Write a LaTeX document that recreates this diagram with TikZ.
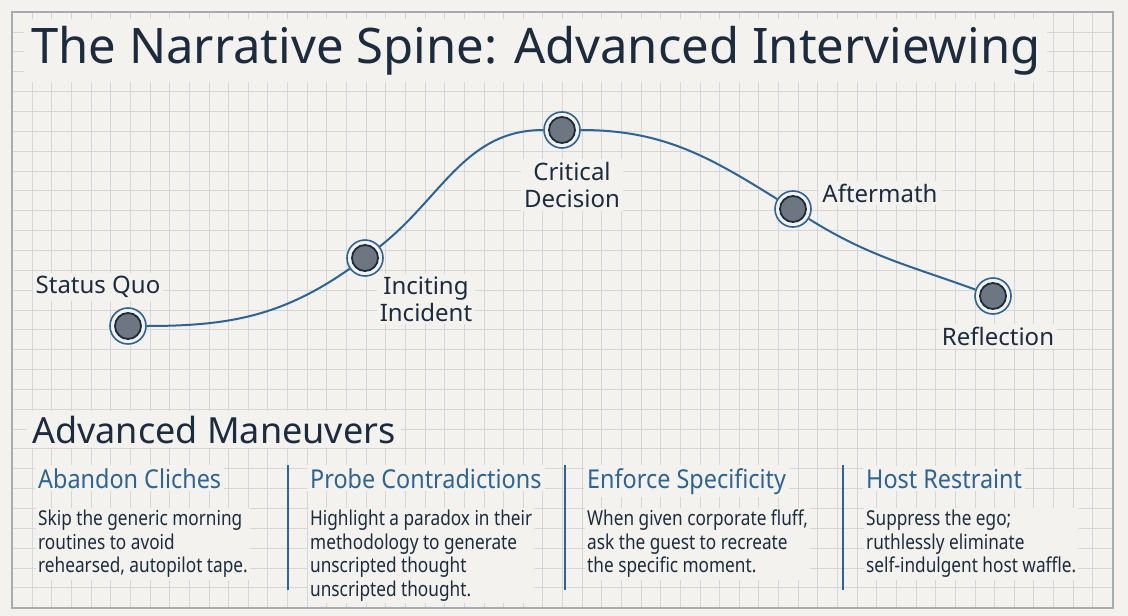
\documentclass[tikz,border=0pt]{standalone}
\usepackage{fontspec}
\setmainfont{Noto Sans}
\newfontfamily\narrowfont[FakeStretch=0.84]{Noto Sans}
\newfontfamily\headfont[FakeStretch=0.9]{Noto Sans}
\usetikzlibrary{positioning}

\definecolor{paper}{HTML}{F3F2EE}
\definecolor{gridgray}{HTML}{D4D6D7}
\definecolor{framegray}{HTML}{A8ACAF}
\definecolor{ink}{HTML}{1C2B3D}
\definecolor{spine}{HTML}{2F6391}
\definecolor{dotgray}{HTML}{6E7681}

\tikzset{
  gridline/.style={draw=gridgray, line width=0.9},
  beat/.style={circle, draw=spine, line width=1.6, fill=paper, minimum size=36, inner sep=0,
    path picture={\fill[dotgray, draw=ink, line width=1.8] (path picture bounding box.center) circle (13);}},
  beatlabel/.style={fill=paper, inner sep=3, text=ink, align=center,
    font=\fontsize{24}{27}\selectfont},
  colhead/.style={fill=paper, inner sep=3, anchor=base west, text=spine,
    font=\headfont\fontsize{26}{29}\selectfont},
  colbody/.style={fill=paper, inner sep=2, anchor=north west, text=ink, align=left,
    font=\narrowfont\fontsize{20.5}{23.5}\selectfont},
  divider/.style={draw=spine, line width=2.4}
}

\begin{document}
\begin{tikzpicture}[x=1pt, y=-1pt]
	\useasboundingbox (0,0) rectangle (1128,616);
	\fill[paper] (0,0) rectangle (1128,616);
	% squared paper
	\foreach \i in {1,...,55} \draw[gridline] ({12.6+19.64*\i},12) -- ++(0,596);
	\foreach \j in {1,...,29} \draw[gridline] (12,{12.2+19.85*\j}) -- ++(1101,0);
	\draw[draw=framegray, line width=1.2] (12,12) rectangle (1113,608);

	\node[fill=paper, inner sep=7, anchor=base west, text=ink, font=\fontsize{49}{55}\selectfont] (title) at (24,63) {The Narrative Spine: Advanced Interviewing};

	% the arc
	\node[beat] (sq) at (128,326) {};
	\node[beat] (ii) at (365,258) {};
	\node[beat] (cd) at (562,130) {};
	\node[beat] (af) at (793,209) {};
	\node[beat] (rf) at (993,296) {};
	\draw[spine, line width=2] (sq) to[out=0, in=215] (ii) to[out=38, in=180] (cd)
		to[out=0, in=148] (af) to[out=-32, in=160] (rf);

	\node[beatlabel] (sqlbl) at (98,287) {Status Quo};
	\node[beatlabel] (iilbl) at (426,299) {Inciting\\Incident};
	\node[beatlabel] (cdlbl) at (572,185) {Critical\\Decision};
	\node[beatlabel] (aflbl) at (880,193) {Aftermath};
	\node[beatlabel] (rflbl) at (998,336) {Reflection};

	% maneuvers
	\node[fill=paper, inner sep=5, anchor=base west, text=ink, font=\fontsize{36}{40}\selectfont] (mantitle) at (27,443) {Advanced Maneuvers};

	\node[colhead] (h1) at (35,488) {Abandon Cliches};
	\node[colhead] (h2) at (307,488) {Probe Contradictions};
	\node[colhead] (h3) at (584,488) {Enforce Specificity};
	\node[colhead] (h4) at (863,488) {Host Restraint};

	\node[colbody] (b1) at (36,508) {Skip the generic morning\\routines to avoid\\rehearsed, autopilot tape.};
	\node[colbody] (b2) at (308,508) {Highlight a paradox in their\\methodology to generate\\unscripted thought\\unscripted thought.};
	\node[colbody] (b3) at (585,508) {When given corporate fluff,\\ask the guest to recreate\\the specific moment.};
	\node[colbody] (b4) at (864,508) {Suppress the ego;\\ruthlessly eliminate\\self-indulgent host waffle.};

	\draw[divider] (288,465) -- (288,590);
	\draw[divider] (565,465) -- (565,590);
	\draw[divider] (843,465) -- (843,590);
\end{tikzpicture}
\end{document}
